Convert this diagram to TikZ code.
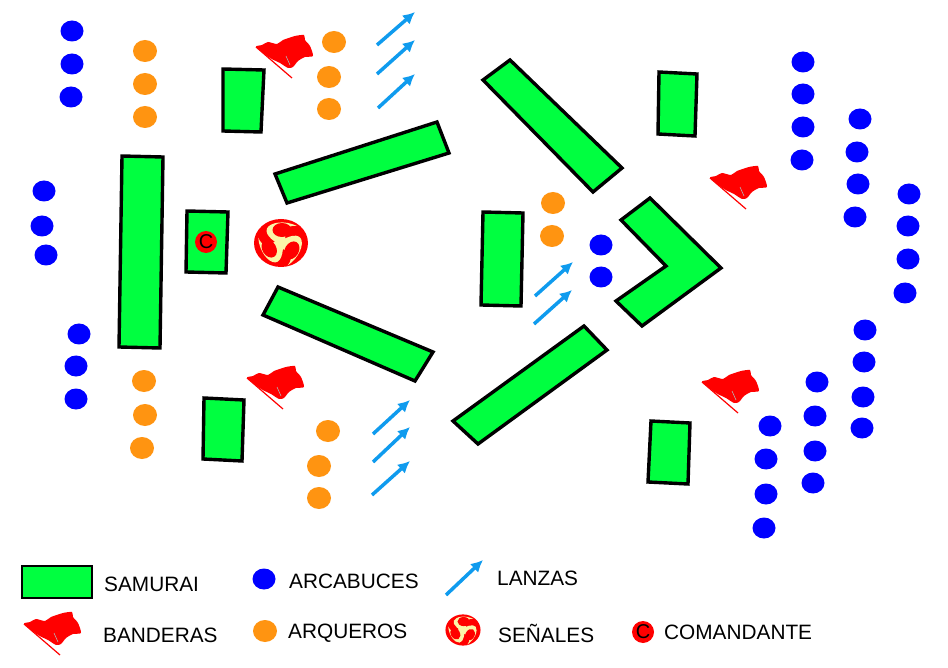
\documentclass[tikz,border=0pt]{standalone}
\usepackage{fontspec}
\setmainfont{Liberation Sans}
\usetikzlibrary{arrows.meta}
\definecolor{samgreen}{HTML}{00FF40}
\definecolor{arcblue}{HTML}{0000FF}
\definecolor{arqorange}{HTML}{FF9411}
\definecolor{lanceblue}{HTML}{0F9BEE}
\definecolor{flagred}{HTML}{FF0000}
\definecolor{cream}{HTML}{FBF5A8}
\tikzset{
  samurai/.style={draw=black,line width=3.4pt,fill=samgreen,line join=miter},
  arcdot/.pic={\fill[arcblue] (0,0) ellipse (11.5 and 10.5);},
  arqdot/.pic={\fill[arqorange] (0,0) ellipse (12 and 11);},
  lance/.style={draw=lanceblue,line width=3.5pt,-{Latex[length=12pt,width=12pt]}},
  legendtext/.style={font=\fontsize{20.8}{24}\selectfont,anchor=west,inner sep=0pt,text=black},
  flagpic/.pic={
    \draw[flagred,line width=1.2pt] (0,0) -- (36,31);
    \fill[flagred] plot[smooth cycle,tension=0.4] coordinates {(0,0)(6,-2)(12,-5)(21,-3)(27,-7)(39,-11)(48,-12)(49,-7)(54,-1)(57,9)(49,10)(42,14)(37,20)(32,21)(24,16)(14,11)};
    \draw[gray!60,line width=0.6pt] (30,9) -- (34,18);
  },
  senal/.pic={
    \begin{scope}[scale=\pgfkeysvalueof{/tikz/senalscale}]
    \fill[flagred] (0,0) ellipse (27 and 24);
    \foreach \a in {0,120,240}{
      \fill[cream,rotate=\a] (5,5) .. controls (-6,0) and (-17,-8) .. (-14,-14.5)
        .. controls (-11,-21) and (4,-23) .. (16,-17)
        .. controls (8,-18) and (2,-16) .. (5,5) -- cycle;
    }
    \foreach \a in {0,120,240}{
      \fill[flagred,rotate=\a] (1,-13) ellipse (9.5 and 7);
    }
    \end{scope}
  },
  senalscale/.initial=1,
  cmark/.style={circle,fill=flagred,minimum size=22pt,inner sep=0pt,font=\fontsize{20}{20}\selectfont,text=black},
}
\begin{document}
\begin{tikzpicture}[x=1pt,y=-1pt]
\useasboundingbox (0,0) rectangle (948,668);
% samurai
\draw[samurai] (223,69)--(264,70)--(261,132)--(223,131)--cycle;
\draw[samurai] (122,156)--(163,157)--(160,348)--(119,347)--cycle;
\draw[samurai] (187,211)--(228,212)--(226,273)--(186,272)--cycle;
\draw[samurai] (275,174)--(437,122)--(449,153)--(287,203)--cycle;
\draw[samurai] (263,315)--(278,287)--(433,352)--(415,381)--cycle;
\draw[samurai] (204,398)--(244,400)--(242,461)--(203,459)--cycle;
\draw[samurai] (483,80)--(510,60)--(622,168)--(593,192)--cycle;
\draw[samurai] (483,212)--(523,213)--(521,306)--(481,305)--cycle;
\draw[samurai] (659,72)--(697,74)--(695,136)--(658,134)--cycle;
\draw[samurai] (650,198)--(721,268)--(642,326)--(616,301)--(666,266)--(621,220)--cycle;
\draw[samurai] (453,421)--(584,326)--(607,350)--(478,444)--cycle;
\draw[samurai] (651,421)--(690,423)--(688,484)--(648,482)--cycle;
\draw[draw=black,line width=2pt,fill=samgreen] (21.5,565.5) rectangle (92,598);
% blue dots
\foreach \x/\y in {72/31,72/64,71/97,44/191,42/226,46/255,79/334,76/366,76/399,
 803/62,803/94,803/127,802/160,860/119,857/152,858/184,855/217,909/194,908/226,908/259,905/293,
 865/330,864/362,863/397,862/428,817/382,815/416,815/451,813/483,770/426,766/459,766/494,764/528,
 601/245,601/277,264/579}
  \pic at (\x,\y) {arcdot};
% orange dots
\foreach \x/\y in {145/51,145/84,145/117,334/42,329/77,329/109,553/203,552/236,144/381,145/415,142/448,
 328/431,319/466,319/498,265/631}
  \pic at (\x,\y) {arqdot};
% lances
\foreach \xa/\ya/\xb/\yb in {377/45/415/12,377/74/415/40,378/108/415/74,535/296/573/262,534/324/572/290,
 373/434/410/400,373/462/410/427,372/495/410/461,446/595/483/560}
  \draw[lance] (\xa,\ya) -- (\xb,\yb);
% flags
\foreach \x/\y in {256/47,247/378,710/178,702/382,24/624}
  \pic at (\x,\y) {flagpic};
% signals
\pic at (281,243) {senal};
\pic[senalscale=0.65] at (463,630) {senal};
% commanders
\node[cmark] (cmd) at (206,242) {C};
\node[cmark] (cmdleg) at (643,632) {C};
% legend
\node[legendtext] (t1) at (104,584) {SAMURAI};
\node[legendtext] (t2) at (103,635) {BANDERAS};
\node[legendtext] (t3) at (289,581) {ARCABUCES};
\node[legendtext] (t4) at (288,633) {ARQUEROS};
\node[legendtext] (t5) at (497,578) {LANZAS};
\node[legendtext] (t6) at (498,633) {SEÑALES};
\node[legendtext] (t7) at (664,632) {COMANDANTE};
\end{tikzpicture}
\end{document}
